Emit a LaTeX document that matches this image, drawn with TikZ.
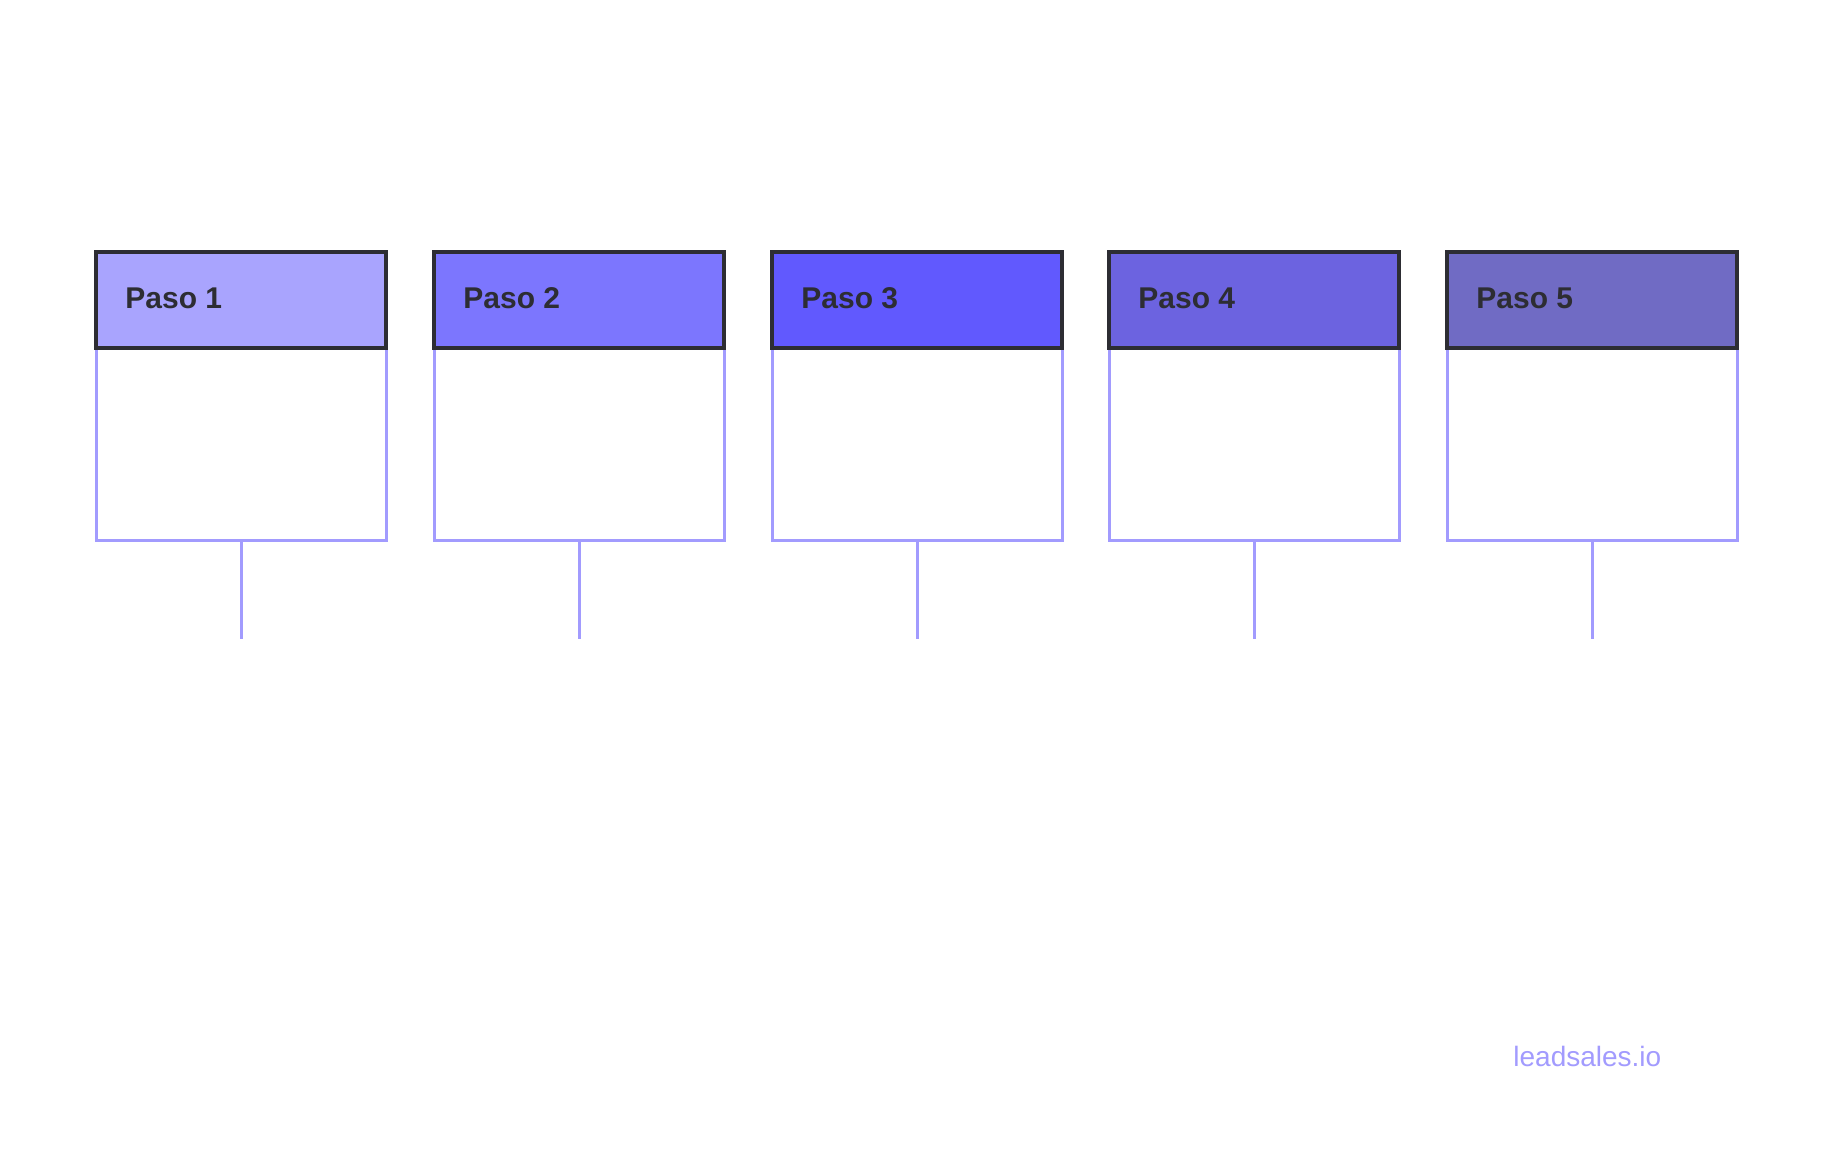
\documentclass[tikz,border=0pt]{standalone}
\usepackage{fontspec}
\setmainfont{Liberation Sans}
\definecolor{lav}{HTML}{A29BFE}
\definecolor{dk}{HTML}{2D2D33}
\definecolor{c1}{HTML}{A9A4FE}
\definecolor{c2}{HTML}{7C76FE}
\definecolor{c3}{HTML}{6159FE}
\definecolor{c4}{HTML}{6C63E0}
\definecolor{c5}{HTML}{706BC4}
\tikzset{body/.style={draw=lav,line width=1.5pt,fill=white},
head/.style={draw=dk,line width=1.8pt},
stem/.style={draw=lav,line width=1.5pt},
lbl/.style={anchor=west,font=\bfseries\fontsize{15}{18}\selectfont,text=dk,inner sep=0}}
\begin{document}
\begin{tikzpicture}[x=0.5pt,y=-0.5pt]
\useasboundingbox[fill=white] (0,0) rectangle (1824,1164);
\foreach \i/\x/\c in {1/96/c1,2/434/c2,3/772/c3,4/1109/c4,5/1447/c5}{
  \draw[body] (\x,348) rectangle (\x+290,540);
  \coordinate (b\i) at (\x+145,540);
  \coordinate (e\i) at (\x+145,639);
  \draw[stem] (b\i) -- (e\i);
  \draw[head,fill=\c] (\x,252) rectangle (\x+290,348);
  \node[lbl] (p\i) at (\x+29,298) {Paso \i};
}
\node[anchor=west,inner sep=0,text=lav,font=\fontsize{14}{17}\selectfont] (w) at (1513,1056) {leadsales.io};
\end{tikzpicture}
\end{document}
